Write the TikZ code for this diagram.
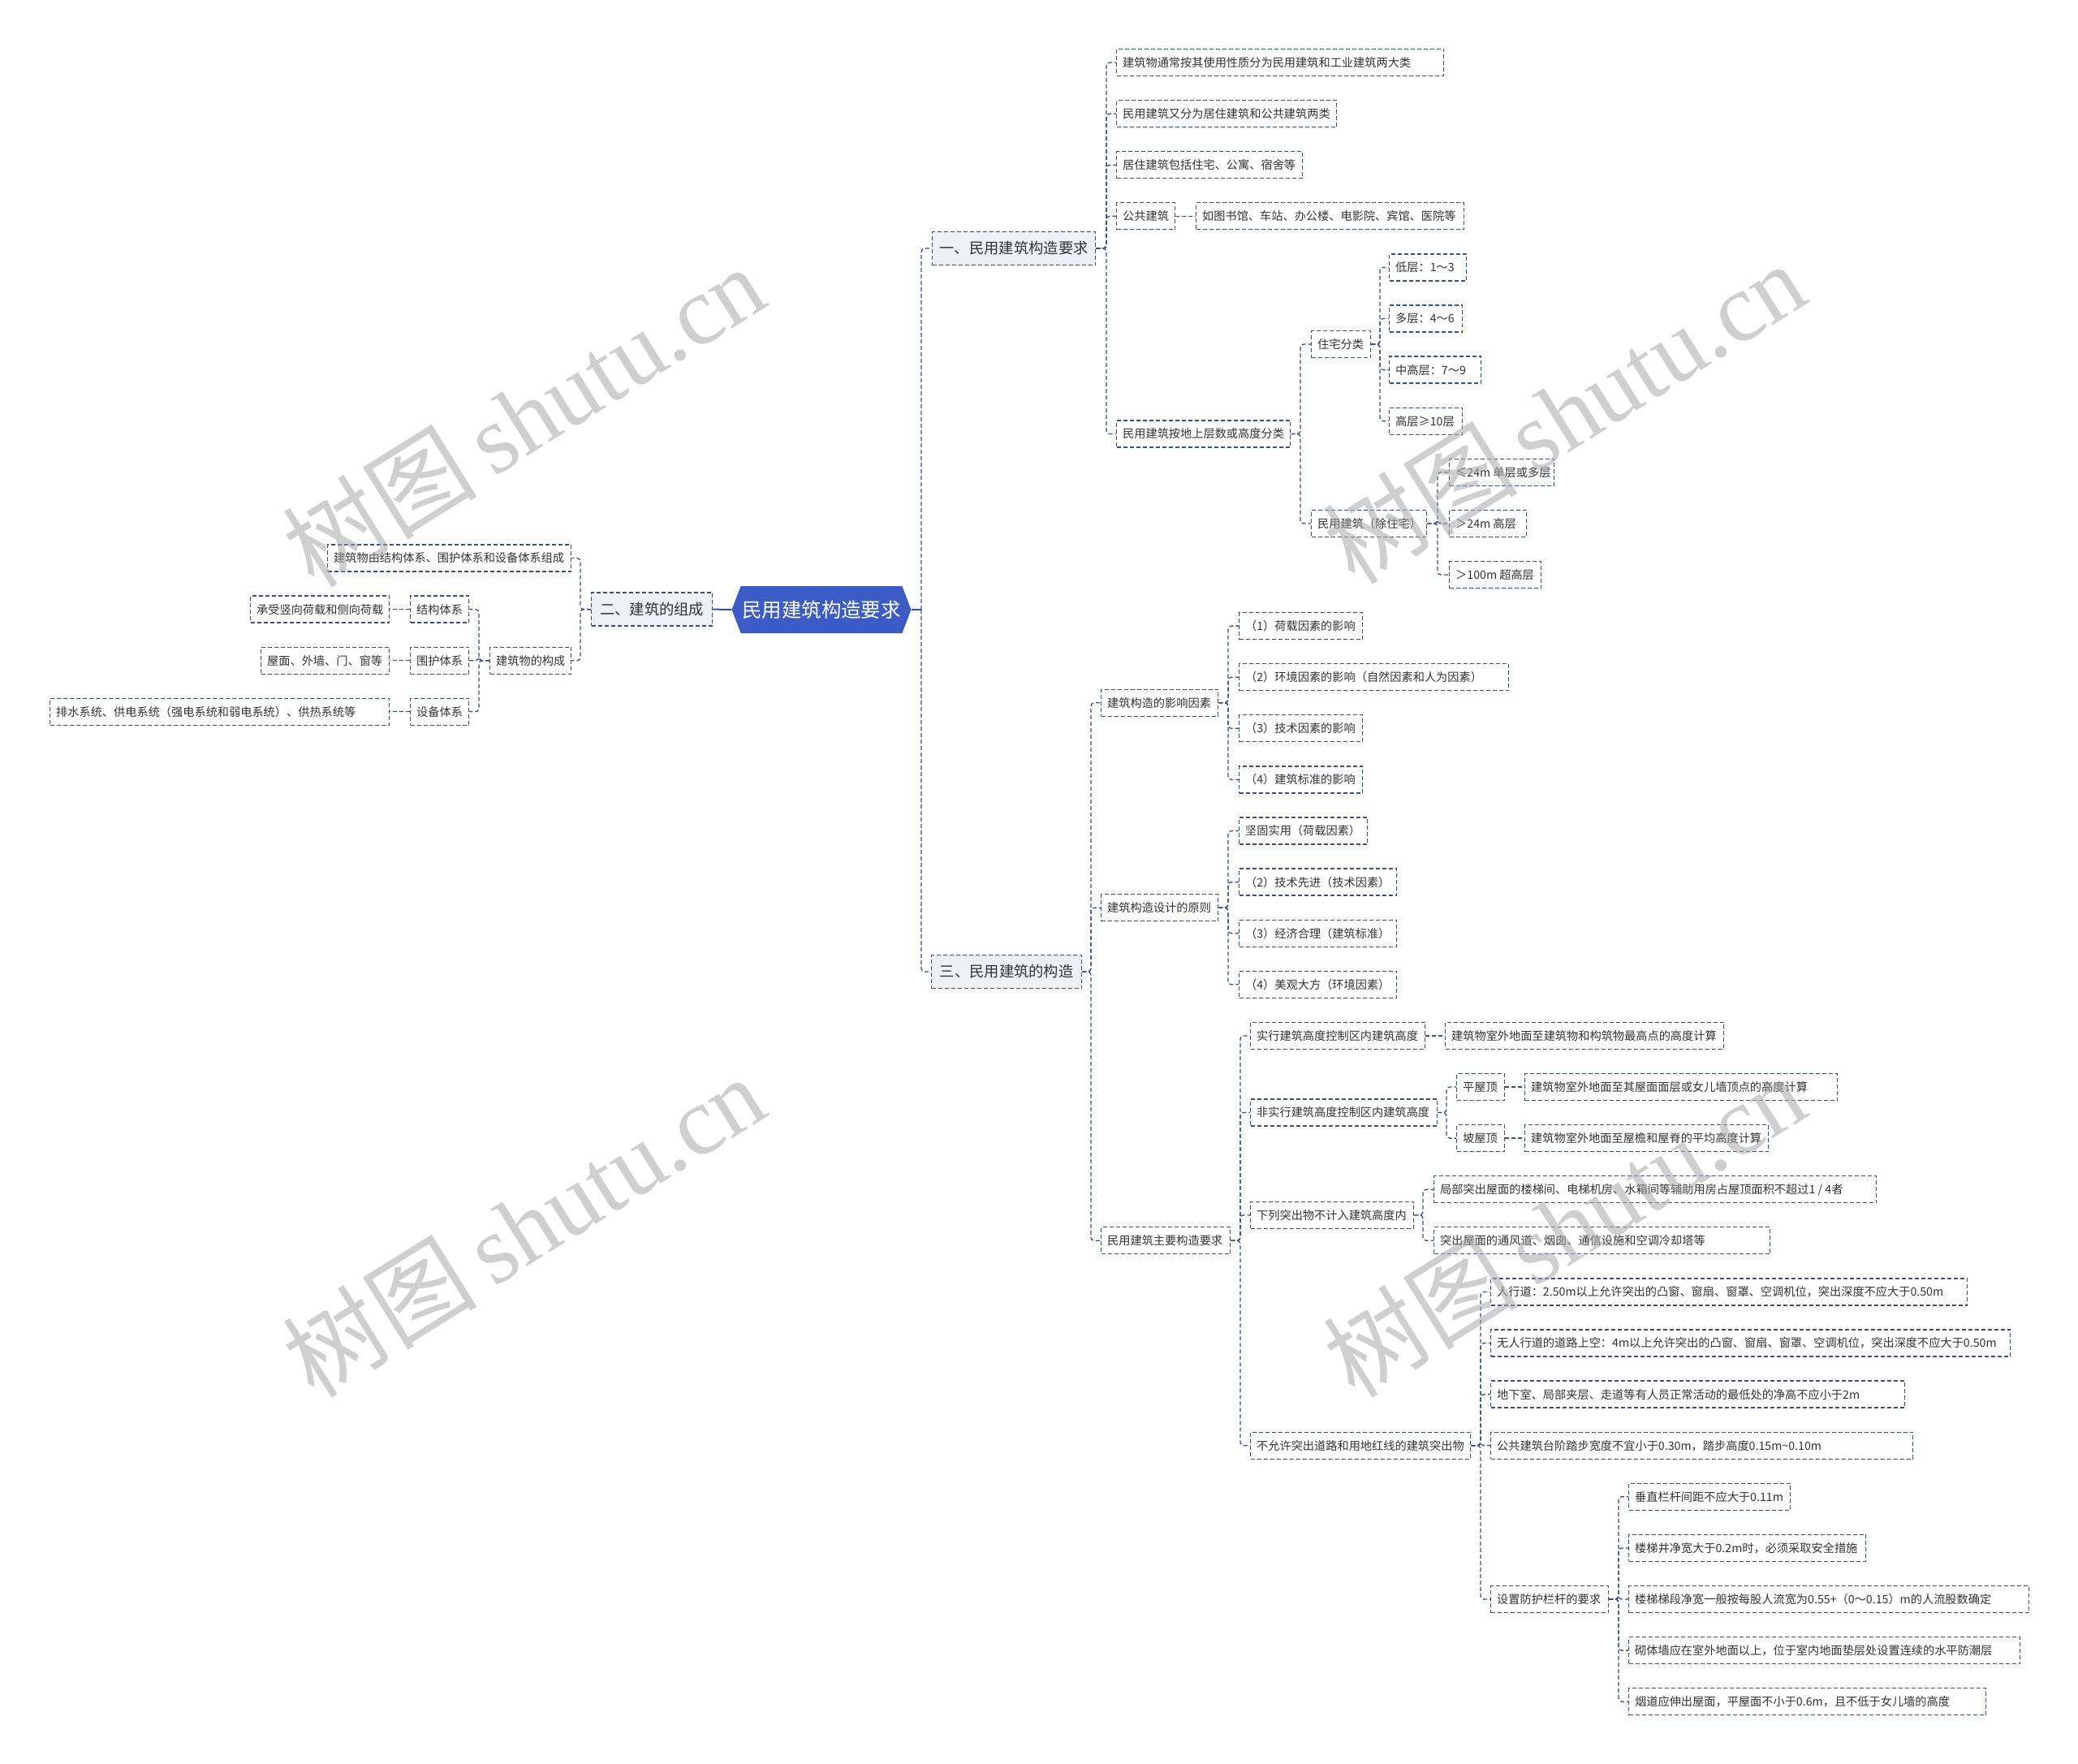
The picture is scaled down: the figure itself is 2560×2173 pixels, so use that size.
\documentclass[tikz,border=0pt]{standalone}
\usepackage{fontspec}
\newfontfamily\cjk{Noto Sans CJK SC}
\newfontfamily\wmlatin{Liberation Serif}
\usetikzlibrary{shapes.symbols}
\definecolor{linec}{HTML}{34508F}
\definecolor{rootc}{HTML}{3B5CC6}
\definecolor{lonefill}{HTML}{EDF0F5}
\definecolor{txtc}{HTML}{333333}
\definecolor{wmc}{HTML}{A8A8A8}
\tikzset{
 leaf/.style={draw=linec, line width=1.3pt, dash pattern=on 5pt off 3pt, fill=white, rectangle,
   inner xsep=7.5pt, inner ysep=3pt, minimum height=33pt, text=txtc,
   font=\cjk\fontsize{14.2pt}{17pt}\selectfont, text height=12.5pt, text depth=1.7pt},
 lone/.style={leaf, fill=lonefill, inner xsep=9pt, minimum height=41pt,
   font=\cjk\fontsize{18.3pt}{22pt}\selectfont, text height=16.1pt, text depth=2.2pt},
 rootbox/.style={signal, signal to=east and west, signal pointer angle=138, fill=rootc, draw=none,
   minimum width=221pt, minimum height=58pt, inner sep=0pt, text=white,
   font=\cjk\fontsize{24.4pt}{28pt}\selectfont, text height=21.5pt, text depth=2.9pt},
 conn/.style={draw=linec, line width=1.3pt, dash pattern=on 5pt off 3pt, rounded corners=4pt},
 solidconn/.style={draw=linec, line width=2pt},
 wmark/.style={text=wmc, text opacity=0.55, rotate=32, inner sep=0pt}
}
\newcommand\bx[6][]{\node[leaf,#1,anchor=west,minimum width=#4pt-#3pt] (#2) at (#3,#5) {\makebox[\dimexpr#4pt-#3pt-15pt\relax][l]{#6}};}
\newcommand\lnR[3]{\draw[conn] (#1.east) -- (#1.east -| #2) |- (#3.west);}
\newcommand\lnL[3]{\draw[conn] (#1.west) -- (#1.west -| #2) |- (#3.east);}
\begin{document}
\begin{tikzpicture}[x=1pt,y=-1pt]
\useasboundingbox (0,0) rectangle (2560,2173);
% root
\node[rootbox] (root) at (1012,751) {民用建筑构造要求};
% level 1
\node[lone, minimum width=201pt, anchor=west] (n1) at (1148,306) {一、民用建筑构造要求};
\node[lone, minimum width=149pt, anchor=west] (n2) at (728,750.6) {二、建筑的组成};
\node[lone, minimum width=185pt, anchor=west] (n3) at (1147,1197) {三、民用建筑的构造};
\coordinate (vT) at (1135,0);
\draw[solidconn] (n2.east) -- (root.west);
\draw[solidconn] (root.east) -- (root.east -| vT);
\draw[conn] (root.east -| vT) |- (n1.west);
\draw[conn] (root.east -| vT) |- (n3.west);
% section one
\coordinate (vA) at (1363,0);
\bx{a1}{1375}{1778}{77.0}{建筑物通常按其使用性质分为民用建筑和工业建筑两大类}
\bx{a2}{1375}{1646}{140.1}{民用建筑又分为居住建筑和公共建筑两类}
\bx{a3}{1375}{1604}{203.2}{居住建筑包括住宅、公寓、宿舍等}
\bx{a4}{1375}{1447}{266.3}{公共建筑}
\bx{a4a}{1473}{1803}{266.3}{如图书馆、车站、办公楼、电影院、宾馆、医院等}
\bx{a5}{1375}{1589}{534.5}{民用建筑按地上层数或高度分类}
\coordinate (vB) at (1602,0);
\bx{b1}{1615}{1688}{424.05}{住宅分类}
\coordinate (vC) at (1700,0);
\bx{c1}{1711}{1806}{329.4}{低层：1～3}
\bx{c2}{1711}{1801}{392.5}{多层：4～6}
\bx{c3}{1711}{1824}{455.6}{中高层：7～9}
\bx{c4}{1711}{1801}{518.7}{高层≥10层}
\bx{b2}{1615}{1757}{644.9}{民用建筑（除住宅）}
\coordinate (vD) at (1771,0);
\bx{d1}{1785}{1914}{581.8}{≤24m 单层或多层}
\bx{d2}{1785}{1880}{644.9}{＞24m 高层}
\bx{d3}{1785}{1898}{708.0}{＞100m 超高层}
\foreach \c in {a1,a2,a3,a4,a5}{\lnR{n1}{vA}{\c}}
\draw[conn] (a4.east) -- (a4a.west);
\lnR{a5}{vB}{b1}
\lnR{a5}{vB}{b2}
\foreach \c in {c1,c2,c3,c4}{\lnR{b1}{vC}{\c}}
\foreach \c in {d1,d2,d3}{\lnR{b2}{vD}{\c}}
% section three
\coordinate (vE) at (1344,0);
\bx{e1}{1356}{1500}{865.75}{建筑构造的影响因素}
\coordinate (vF) at (1513,0);
\bx{f1}{1526}{1678}{771.1}{（1）荷载因素的影响}
\bx{f2}{1526}{1858}{834.2}{（2）环境因素的影响（自然因素和人为因素）}
\bx{f3}{1526}{1678}{897.3}{（3）技术因素的影响}
\bx{f4}{1526}{1678}{960.4}{（4）建筑标准的影响}
\bx{e2}{1356}{1500}{1118.15}{建筑构造设计的原则}
\bx{g1}{1526}{1684}{1023.5}{坚固实用（荷载因素）}
\bx{g2}{1526}{1720}{1086.6}{（2）技术先进（技术因素）}
\bx{g3}{1526}{1720}{1149.7}{（3）经济合理（建筑标准）}
\bx{g4}{1526}{1720}{1212.8}{（4）美观大方（环境因素）}
\bx{e3}{1356}{1515}{1528.3}{民用建筑主要构造要求}
\coordinate (vG) at (1528,0);
\bx{h1}{1540}{1755}{1275.9}{实行建筑高度控制区内建筑高度}
\bx{h1a}{1780}{2123}{1275.9}{建筑物室外地面至建筑物和构筑物最高点的高度计算}
\bx{h2}{1540}{1770}{1370.55}{非实行建筑高度控制区内建筑高度}
\coordinate (vH) at (1782,0);
\bx{i1}{1794}{1853}{1339.0}{平屋顶}
\bx{i1a}{1878}{2263}{1339.0}{建筑物室外地面至其屋面面层或女儿墙顶点的高度计算}
\bx{i2}{1794}{1853}{1402.1}{坡屋顶}
\bx{i2a}{1878}{2178}{1402.1}{建筑物室外地面至屋檐和屋脊的平均高度计算}
\bx{h3}{1540}{1741}{1496.75}{下列突出物不计入建筑高度内}
\coordinate (vI) at (1753,0);
\bx{j1}{1766}{2311}{1465.2}{局部突出屋面的楼梯间、电梯机房、水箱间等辅助用房占屋顶面积不超过1 / 4者}
\bx{j2}{1766}{2180}{1528.3}{突出屋面的通风道、烟囱、通信设施和空调冷却塔等}
\bx{h4}{1540}{1811}{1780.7}{不允许突出道路和用地红线的建筑突出物}
\coordinate (vJ) at (1824,0);
\bx{k1}{1836}{2423}{1591.4}{人行道：2.50m以上允许突出的凸窗、窗扇、窗罩、空调机位，突出深度不应大于0.50m}
\bx{k2}{1836}{2476}{1654.5}{无人行道的道路上空：4m以上允许突出的凸窗、窗扇、窗罩、空调机位，突出深度不应大于0.50m}
\bx{k3}{1836}{2346}{1717.6}{地下室、局部夹层、走道等有人员正常活动的最低处的净高不应小于2m}
\bx{k4}{1836}{2356}{1780.7}{公共建筑台阶踏步宽度不宜小于0.30m，踏步高度0.15m\textasciitilde0.10m}
\bx{k5}{1836}{1981}{1970.0}{设置防护栏杆的要求}
\coordinate (vK) at (1994,0);
\bx{m1}{2006}{2205}{1843.8}{垂直栏杆间距不应大于0.11m}
\bx{m2}{2006}{2298}{1906.9}{楼梯井净宽大于0.2m时，必须采取安全措施}
\bx{m3}{2006}{2499}{1970.0}{楼梯梯段净宽一般按每股人流宽为0.55+（0～0.15）m的人流股数确定}
\bx{m4}{2006}{2488}{2033.1}{砌体墙应在室外地面以上，位于室内地面垫层处设置连续的水平防潮层}
\bx{m5}{2006}{2446}{2096.2}{烟道应伸出屋面，平屋面不小于0.6m，且不低于女儿墙的高度}
\foreach \c in {e1,e2,e3}{\lnR{n3}{vE}{\c}}
\foreach \c in {f1,f2,f3,f4}{\lnR{e1}{vF}{\c}}
\foreach \c in {g1,g2,g3,g4}{\lnR{e2}{vF}{\c}}
\foreach \c in {h1,h2,h3,h4}{\lnR{e3}{vG}{\c}}
\draw[conn] (h1.east) -- (h1a.west);
\lnR{h2}{vH}{i1}
\lnR{h2}{vH}{i2}
\draw[conn] (i1.east) -- (i1a.west);
\draw[conn] (i2.east) -- (i2a.west);
\lnR{h3}{vI}{j1}
\lnR{h3}{vI}{j2}
\foreach \c in {k1,k2,k3,k4,k5}{\lnR{h4}{vJ}{\c}}
\foreach \c in {m1,m2,m3,m4,m5}{\lnR{k5}{vK}{\c}}
% section two (left)
\coordinate (vL) at (715,0);
\bx{p1}{403}{703}{687.5}{建筑物由结构体系、围护体系和设备体系组成}
\bx{p2}{603}{703}{813.7}{建筑物的构成}
\coordinate (vM) at (590,0);
\bx{q1}{505}{577}{750.6}{结构体系}
\bx{q2}{505}{577}{813.7}{围护体系}
\bx{q3}{505}{577}{876.8}{设备体系}
\bx{r1}{308}{479}{750.6}{承受竖向荷载和侧向荷载}
\bx{r2}{321}{479}{813.7}{屋面、外墙、门、窗等}
\bx{r3}{61}{479}{876.8}{排水系统、供电系统（强电系统和弱电系统）、供热系统等}
\lnL{n2}{vL}{p1}
\lnL{n2}{vL}{p2}
\foreach \c in {q1,q2,q3}{\lnL{p2}{vM}{\c}}
\draw[conn] (q1.west) -- (r1.east);
\draw[conn] (q2.west) -- (r2.east);
\draw[conn] (q3.west) -- (r3.east);
% watermarks (on top, translucent)
\foreach \wx/\wy/\wn in {645/512/wa, 1927/508/wb, 645/1510/wc, 1927/1510/wd}{
  \node[wmark] (\wn) at (\wx,\wy) {\fontsize{120pt}{125pt}\selectfont{\cjk 树图}\,{\wmlatin shutu.cn}};
}
\end{tikzpicture}
\end{document}
